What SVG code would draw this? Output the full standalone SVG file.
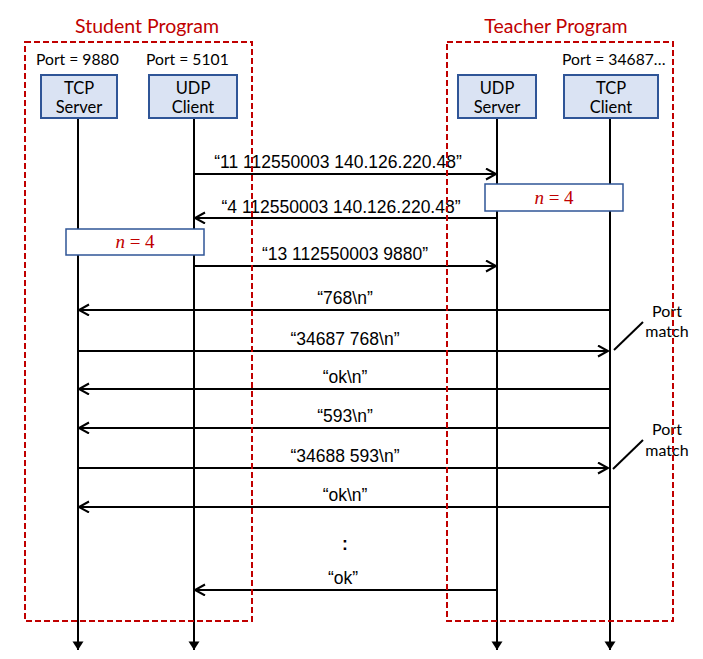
<svg xmlns="http://www.w3.org/2000/svg" width="703" height="659" viewBox="0 0 703 659">
<defs>
<marker id="open" markerWidth="14" markerHeight="14" refX="11" refY="6" orient="auto" markerUnits="userSpaceOnUse">
<path d="M1,0.5 L11,6 L1,11.5" fill="none" stroke="#000" stroke-width="2"/>
</marker>
<marker id="solid" markerWidth="14" markerHeight="14" refX="6" refY="9" orient="0" markerUnits="userSpaceOnUse">
<path d="M0.5,0.5 L11.5,0.5 L6,9 Z" fill="#000"/>
</marker>
</defs>
<style>
.title{font-family:Lato,"Liberation Sans",sans-serif;font-size:19.5px;fill:#c00000;text-anchor:middle}
.port{font-family:Lato,"Liberation Sans",sans-serif;font-size:15.7px;fill:#000}
.node rect{fill:#dae3f3;stroke:#2f5597;stroke-width:2}
.node text{font-family:Lato,"Liberation Sans",sans-serif;font-size:16.5px;fill:#000;text-anchor:middle}
.life{stroke:#000;stroke-width:2;fill:none;marker-end:url(#solid)}
.msg{stroke:#000;stroke-width:2;fill:none;marker-end:url(#open)}
.lbl{font-family:"Liberation Sans",Arial,sans-serif;font-size:17.5px;fill:#000;text-anchor:middle}
.frame{fill:none;stroke:#c00000;stroke-width:2;stroke-dasharray:6,3}
.nbox rect{fill:#fff;stroke:#2f5597;stroke-width:1.5}
.nbox text{font-family:"Liberation Serif",serif;font-size:19px;fill:#c00000;text-anchor:middle}
.pm{font-family:Lato,"Liberation Sans",sans-serif;font-size:16px;fill:#000;text-anchor:middle}
</style>
<text class="title" x="147" y="33">Student Program</text>
<text class="title" x="556" y="33">Teacher Program</text>
<text class="port" x="36" y="65">Port = 9880</text>
<text class="port" x="146" y="65">Port = 5101</text>
<text class="port" x="562" y="65">Port = 34687…</text>

<g id="connectors">
<line class="life" x1="78" y1="118" x2="78" y2="650"/>
<line class="life" x1="194" y1="118" x2="194" y2="650"/>
<line class="life" x1="497" y1="118" x2="497" y2="650"/>
<line class="life" x1="610" y1="118" x2="610" y2="650"/>
<line class="msg" x1="194" y1="174" x2="496" y2="174"/>
<line class="msg" x1="497" y1="218" x2="195" y2="218"/>
<line class="msg" x1="194" y1="266" x2="496" y2="266"/>
<line class="msg" x1="610" y1="310" x2="79" y2="310"/>
<line class="msg" x1="78" y1="351" x2="608" y2="351"/>
<line class="msg" x1="610" y1="389" x2="79" y2="389"/>
<line class="msg" x1="610" y1="428" x2="79" y2="428"/>
<line class="msg" x1="78" y1="468" x2="608" y2="468"/>
<line class="msg" x1="610" y1="507" x2="79" y2="507"/>
<line class="msg" x1="497" y1="590" x2="195" y2="590"/>
<line x1="614" y1="350" x2="643" y2="322" stroke="#000" stroke-width="2"/>
<line x1="613" y1="469" x2="643" y2="440" stroke="#000" stroke-width="2"/>
</g>

<g id="tcp-server" class="node"><rect x="41" y="75" width="76" height="43"/><text x="79" y="94">TCP</text><text x="79" y="113">Server</text></g>
<g id="udp-client" class="node"><rect x="149" y="75" width="88" height="43"/><text x="193" y="94">UDP</text><text x="193" y="113">Client</text></g>
<g id="udp-server" class="node"><rect x="458" y="75" width="78" height="43"/><text x="497" y="94">UDP</text><text x="497" y="113">Server</text></g>
<g id="tcp-client" class="node"><rect x="564" y="75" width="94" height="43"/><text x="611" y="94">TCP</text><text x="611" y="113">Client</text></g>

<g id="n4-right" class="nbox"><rect x="485" y="184" width="138" height="27"/><text x="554" y="204"><tspan font-style="italic">n</tspan> = 4</text></g>
<g id="n4-left" class="nbox"><rect x="66" y="229" width="138" height="26"/><text x="135" y="248"><tspan font-style="italic">n</tspan> = 4</text></g>

<text class="lbl" x="338" y="168">“11 112550003 140.126.220.48”</text>
<text class="lbl" x="341" y="213">“4 112550003 140.126.220.48”</text>
<text class="lbl" x="345" y="260">“13 112550003 9880”</text>
<text class="lbl" x="345" y="304">“768\n”</text>
<text class="lbl" x="345" y="345">“34687 768\n”</text>
<text class="lbl" x="345" y="383">“ok\n”</text>
<text class="lbl" x="345" y="422">“593\n”</text>
<text class="lbl" x="345" y="462">“34688 593\n”</text>
<text class="lbl" x="345" y="501">“ok\n”</text>
<text class="lbl" x="345" y="550" font-size="24" font-weight="bold">:</text>
<text class="lbl" x="343" y="584">“ok”</text>

<text class="pm" x="667" y="317">Port</text>
<text class="pm" x="667" y="337">match</text>
<text class="pm" x="667" y="435">Port</text>
<text class="pm" x="667" y="456">match</text>

<rect class="frame" x="25" y="42" width="227" height="579"/>
<rect class="frame" x="447" y="42" width="226" height="579"/>
</svg>
